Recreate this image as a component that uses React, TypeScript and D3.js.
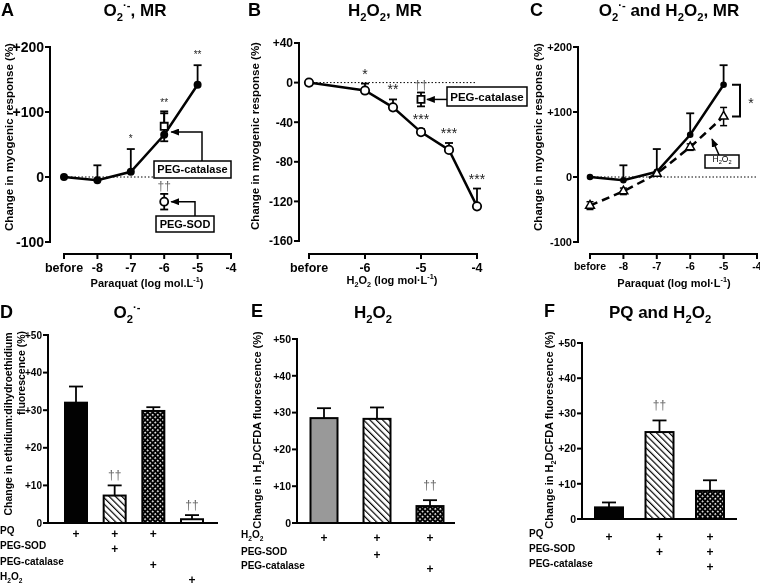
import React from "react";
import * as d3 from "d3";

const FONT = "'Liberation Sans', Arial, Helvetica, sans-serif";

// ---------- Panel A / C : paraquat, myogenic response ----------
const pqDoses = [-9, -8, -7, -6, -5]; // -9 plotted as "before"
const pqResponse = [0, -5, 8, 65, 142];
const pqErrUp = [0, 23, 35, 33, 30];
const pqStars = ["", "", "*", "**", "**"];
const pqXTicks = [-9, -8, -7, -6, -5, -4];
const pqXTickLabels = ["before", "-8", "-7", "-6", "-5", "-4"];
const pqYTicks = [-100, 0, 100, 200];
const pqYTickLabels = ["-100", "0", "+100", "+200"];

const pegCatalasePqDose = [-6];
const pegCatalasePqResponse = [78];
const pegCatalasePqErr = [23];
const pegSodPqDose = [-6];
const pegSodPqResponse = [-38];
const pegSodPqErr = [12];

// ---------- Panel B : H2O2, myogenic response ----------
const h2o2Doses = [-7, -6, -5.5, -5, -4.5, -4]; // -7 plotted as "before"
const h2o2Response = [0, -8, -25, -50, -68, -125];
const h2o2ErrUp = [0, 7, 8, 3, 7, 18];
const h2o2Stars = ["", "*", "**", "***", "***", "***"];
const h2o2XTicks = [-7, -6, -5, -4];
const h2o2XTickLabels = ["before", "-6", "-5", "-4"];
const h2o2YTicks = [-160, -120, -80, -40, 0, 40];
const h2o2YTickLabels = ["-160", "-120", "-80", "-40", "0", "+40"];
const pegCatalaseH2o2Dose = [-5];
const pegCatalaseH2o2Response = [-17];
const pegCatalaseH2o2Err = [7];

// ---------- Panel C : H2O2 (dashed) ----------
const pqH2o2Response = [-44, -22, 5, 46, 93];
const pqH2o2Err = [6, 5, 3, 5, 14];

// ---------- Bar panels ----------
const barYTicks = [0, 10, 20, 30, 40, 50];
const barYTickLabels = ["0", "+10", "+20", "+30", "+40", "+50"];

const dCategories = ["PQ", "PQ+PEG-SOD", "PQ+PEG-catalase", "H2O2"];
const dValues = [32, 7.3, 29.8, 1];
const dErr = [4.3, 2.7, 1, 1.1];
const dDaggers = ["", "††", "", "††"];
const dFills = ["black", "hatch", "cross", "white"];
const dRowLabels = ["PQ", "PEG-SOD", "PEG-catalase", "H{2}O{2}"];
const dRowMarks = [
  [1, 1, 1, 0],
  [0, 1, 0, 0],
  [0, 0, 1, 0],
  [0, 0, 0, 1],
];

const eCategories = ["H2O2", "H2O2+PEG-SOD", "H2O2+PEG-catalase"];
const eValues = [28.5, 28.3, 4.6];
const eErr = [2.7, 3.1, 1.6];
const eDaggers = ["", "", "††"];
const eFills = ["gray", "hatch", "cross"];
const eRowLabels = ["H{2}O{2}", "PEG-SOD", "PEG-catalase"];
const eRowMarks = [
  [1, 1, 1],
  [0, 1, 0],
  [0, 0, 1],
];

const fCategories = ["PQ", "PQ+PEG-SOD", "PQ+PEG-SOD+PEG-catalase"];
const fValues = [3.3, 24.7, 8];
const fErr = [1.4, 3.3, 3];
const fDaggers = ["", "††", ""];
const fFills = ["black", "hatch", "cross"];
const fRowLabels = ["PQ", "PEG-SOD", "PEG-catalase"];
const fRowMarks = [
  [1, 1, 1],
  [0, 1, 1],
  [0, 0, 1],
];

// {x} = subscript, [x] = superscript
function rich(s: string, fs: number) {
  const parts = s.split(/(\{[^}]*\}|\[[^\]]*\])/).filter((p) => p.length);
  let off = 0;
  return parts.map((p, i) => {
    let target = 0;
    let text = p;
    let size = fs;
    if (p.startsWith("{")) {
      target = 0.3 * fs;
      text = p.slice(1, -1);
      size = 0.66 * fs;
    } else if (p.startsWith("[")) {
      target = -0.42 * fs;
      text = p.slice(1, -1);
      size = 0.66 * fs;
    }
    const dy = target - off;
    off = target;
    return (
      <tspan key={i} dy={dy} fontSize={size}>
        {text}
      </tspan>
    );
  });
}

const fillFor = (f: string) =>
  f === "black" ? "#000" : f === "gray" ? "#999" : f === "white" ? "#fff" : f === "hatch" ? "url(#hatch)" : "url(#cross)";

function YAxis({ scale, x, ticks, labels, fs }: any) {
  const [d0, d1] = scale.domain();
  return (
    <g>
      <line x1={x} x2={x} y1={scale(d0) + 1} y2={scale(d1) - 1} stroke="#000" strokeWidth={2} />
      {ticks.map((t: number, i: number) => (
        <g key={i}>
          <line x1={x - 5} x2={x} y1={scale(t)} y2={scale(t)} stroke="#000" strokeWidth={2} />
          <text x={x - 6} y={scale(t)} dy="0.36em" textAnchor="end" fontSize={fs} fontWeight="bold">
            {labels[i]}
          </text>
        </g>
      ))}
    </g>
  );
}

function XAxisLine({ scale, y, ticks, labels, fs }: any) {
  const [d0, d1] = scale.domain();
  return (
    <g>
      <line x1={scale(d0) - 1} x2={scale(d1) + 1} y1={y} y2={y} stroke="#000" strokeWidth={2} />
      {ticks.map((t: number, i: number) => (
        <g key={i}>
          <line x1={scale(t)} x2={scale(t)} y1={y} y2={y + 5} stroke="#000" strokeWidth={2} />
          <text x={scale(t)} y={y + 8} dy="0.8em" textAnchor="middle" fontSize={fs} fontWeight="bold">
            {labels[i]}
          </text>
        </g>
      ))}
    </g>
  );
}

function ErrUp({ x, y0, y1, hw = 4 }: any) {
  return (
    <g stroke="#000" strokeWidth={1.8}>
      <line x1={x} x2={x} y1={y0} y2={y1} />
      <line x1={x - hw} x2={x + hw} y1={y1} y2={y1} />
    </g>
  );
}

function BarPanel({ cats, values, errs, fills, daggers, rowLabels, rowMarks, xRange, yRange, axisX, axisEnd, barW, rowYs, rowLabelX, daggerOff, tickFs }: any) {
  const x = d3.scalePoint<string>().domain(cats).range(xRange);
  const y = d3.scaleLinear().domain([0, 50]).range(yRange);
  return (
    <g>
      <YAxis scale={y} x={axisX} ticks={barYTicks} labels={barYTickLabels} fs={tickFs} />
      <line x1={axisX - 1} x2={axisEnd} y1={y(0)} y2={y(0)} stroke="#000" strokeWidth={2} />
      {cats.map((c: string, i: number) => {
        const cx = x(c)!;
        return (
          <g key={c}>
            <ErrUp x={cx} y0={y(values[i])} y1={y(values[i] + errs[i])} hw={7} />
            <rect x={cx - barW / 2} y={y(values[i])} width={barW} height={y(0) - y(values[i])} fill={fillFor(fills[i])} stroke="#000" strokeWidth={2} />
            {daggers[i] && (
              <text x={cx} y={y(values[i] + errs[i]) - daggerOff} textAnchor="middle" fontSize={12} fill="#666">
                {daggers[i]}
              </text>
            )}
          </g>
        );
      })}
      {rowLabels.map((lab: string, r: number) => (
        <g key={r}>
          <text x={rowLabelX} y={rowYs[r]} dy="0.35em" fontSize={10} fontWeight="bold">
            {rich(lab, 10)}
          </text>
          {rowMarks[r].map((m: number, i: number) =>
            m ? (
              <text key={i} x={x(cats[i])} y={rowYs[r]} dy="0.35em" textAnchor="middle" fontSize={12} fontWeight="bold">
                +
              </text>
            ) : null
          )}
        </g>
      ))}
    </g>
  );
}

export default function App() {
  const xA = d3.scaleLinear().domain([-9, -4]).range([64, 231]);
  const yA = d3.scaleLinear().domain([-100, 200]).range([242, 47]);
  const xB = d3.scaleLinear().domain([-7, -4]).range([309, 477]);
  const yB = d3.scaleLinear().domain([-160, 40]).range([241, 43]);
  const xC = d3.scaleLinear().domain([-9, -4]).range([590, 757]);
  const yC = d3.scaleLinear().domain([-100, 200]).range([242, 47]);

  const lineA = d3.line<number>().x((_, i) => xA(pqDoses[i])).y((d) => yA(d));
  const lineB = d3.line<number>().x((_, i) => xB(h2o2Doses[i])).y((d) => yB(d));
  const lineC = d3.line<number>().x((_, i) => xC(pqDoses[i])).y((d) => yC(d));

  const tri = d3.symbol().type(d3.symbolTriangle).size(34)()!;
  const sq = d3.symbol().type(d3.symbolSquare).size(50)()!;

  const yTitleA = "Change in myogenic response (%)";

  return (
    <svg
      width={760}
      height={587}
      style={{ position: "absolute", left: 0, top: 0, background: "#fff" }}
      fontFamily={FONT}
    >
      <defs>
        <pattern id="hatch" patternUnits="userSpaceOnUse" width={4.5} height={4.5} patternTransform="rotate(-45)">
          <rect width={4.5} height={4.5} fill="#fff" />
          <line x1={0} y1={0} x2={0} y2={4.5} stroke="#000" strokeWidth={2.4} />
        </pattern>
        <pattern id="cross" patternUnits="userSpaceOnUse" width={3.6} height={3.6} patternTransform="rotate(45)">
          <rect width={3.6} height={3.6} fill="#000" />
          <rect x={0.9} y={0.9} width={1.6} height={1.6} fill="#fff" />
        </pattern>
        <marker id="arrow" viewBox="0 0 10 8" refX={9} refY={4} markerWidth={9} markerHeight={7} markerUnits="userSpaceOnUse" orient="auto">
          <path d="M0,0 L10,4 L0,8 z" fill="#000" />
        </marker>
      </defs>
      <rect width={760} height={587} fill="#fff" />
      <g opacity={0.996}>

      {/* ---------------- Panel A ---------------- */}
      <text x={1} y={16} fontSize={18} fontWeight="bold">A</text>
      <text x={135} y={16} textAnchor="middle" fontSize={17} fontWeight="bold">
        {rich("O{2}[·-], MR", 17)}
      </text>
      <text transform="translate(13,137) rotate(-90)" textAnchor="middle" fontSize={11.5} fontWeight="bold">
        {yTitleA}
      </text>
      <YAxis scale={yA} x={50} ticks={pqYTicks} labels={pqYTickLabels} fs={14} />
      <XAxisLine scale={xA} y={254} ticks={pqXTicks} labels={pqXTickLabels} fs={12.5} />
      <text x={147} y={287} textAnchor="middle" fontSize={11} fontWeight="bold">
        {rich("Paraquat (log mol.L[-1])", 11)}
      </text>
      <line x1={xA(-9)} x2={xA(-4)} y1={yA(0)} y2={yA(0)} stroke="#000" strokeWidth={1} strokeDasharray="1.5,2" />
      {pqResponse.map((v, i) =>
        pqErrUp[i] ? <ErrUp key={i} x={xA(pqDoses[i])} y0={yA(v)} y1={yA(v + pqErrUp[i])} /> : null
      )}
      <path d={lineA(pqResponse)!} fill="none" stroke="#000" strokeWidth={2.5} />
      {pegCatalasePqResponse.map((v, i) => (
        <g key={i}>
          <line x1={xA(pegCatalasePqDose[i])} x2={xA(pegCatalasePqDose[i])} y1={yA(v - pegCatalasePqErr[i])} y2={yA(v + pegCatalasePqErr[i])} stroke="#000" strokeWidth={1.8} />
          <line x1={xA(pegCatalasePqDose[i]) - 4} x2={xA(pegCatalasePqDose[i]) + 4} y1={yA(v + pegCatalasePqErr[i])} y2={yA(v + pegCatalasePqErr[i])} stroke="#000" strokeWidth={1.8} />
          <line x1={xA(pegCatalasePqDose[i]) - 4} x2={xA(pegCatalasePqDose[i]) + 4} y1={yA(v - pegCatalasePqErr[i])} y2={yA(v - pegCatalasePqErr[i])} stroke="#000" strokeWidth={1.8} />
          <path d={sq} transform={`translate(${xA(pegCatalasePqDose[i])},${yA(v)})`} fill="#fff" stroke="#000" strokeWidth={1.8} />
        </g>
      ))}
      {pqResponse.map((v, i) => (
        <circle key={i} cx={xA(pqDoses[i])} cy={yA(v)} r={4} fill="#000" />
      ))}
      {pqStars.map((s, i) =>
        s ? (
          <text key={i} x={xA(pqDoses[i])} y={yA(pqResponse[i] + pqErrUp[i]) - 7} textAnchor="middle" fontSize={10} fill="#222">
            {s}
          </text>
        ) : null
      )}
      {pegSodPqResponse.map((v, i) => (
        <g key={i}>
          <line x1={xA(pegSodPqDose[i])} x2={xA(pegSodPqDose[i])} y1={yA(v - pegSodPqErr[i])} y2={yA(v + pegSodPqErr[i])} stroke="#000" strokeWidth={1.8} />
          <line x1={xA(pegSodPqDose[i]) - 4} x2={xA(pegSodPqDose[i]) + 4} y1={yA(v + pegSodPqErr[i])} y2={yA(v + pegSodPqErr[i])} stroke="#000" strokeWidth={1.8} />
          <line x1={xA(pegSodPqDose[i]) - 4} x2={xA(pegSodPqDose[i]) + 4} y1={yA(v - pegSodPqErr[i])} y2={yA(v - pegSodPqErr[i])} stroke="#000" strokeWidth={1.8} />
          <circle cx={xA(pegSodPqDose[i])} cy={yA(v)} r={4} fill="#fff" stroke="#000" strokeWidth={1.8} />
          <text x={xA(pegSodPqDose[i])} y={yA(v + pegSodPqErr[i]) - 4} textAnchor="middle" fontSize={12} fill="#666">††</text>
        </g>
      ))}
      {/* callouts A */}
      <rect x={154} y={161} width={77} height={17} fill="#fff" stroke="#000" strokeWidth={1.5} />
      <text x={192.5} y={169.5} dy="0.36em" textAnchor="middle" fontSize={11} fontWeight="bold">PEG-catalase</text>
      <path d={`M202,161 V132 H${xA(-6) + 7}`} fill="none" stroke="#000" strokeWidth={1.5} markerEnd="url(#arrow)" />
      <rect x={156} y={216} width={58} height={16} fill="#fff" stroke="#000" strokeWidth={1.5} />
      <text x={185} y={224} dy="0.36em" textAnchor="middle" fontSize={11} fontWeight="bold">PEG-SOD</text>
      <path d={`M195,216 V${yA(-38)} H${xA(-6) + 7}`} fill="none" stroke="#000" strokeWidth={1.5} markerEnd="url(#arrow)" />

      {/* ---------------- Panel B ---------------- */}
      <text x={248} y={16} fontSize={18} fontWeight="bold">B</text>
      <text x={385} y={16} textAnchor="middle" fontSize={17} fontWeight="bold">
        {rich("H{2}O{2}, MR", 17)}
      </text>
      <text transform="translate(259,136) rotate(-90)" textAnchor="middle" fontSize={11.5} fontWeight="bold">
        {yTitleA}
      </text>
      <YAxis scale={yB} x={299} ticks={h2o2YTicks} labels={h2o2YTickLabels} fs={12} />
      <XAxisLine scale={xB} y={254} ticks={h2o2XTicks} labels={h2o2XTickLabels} fs={12.5} />
      <text x={392} y={284} textAnchor="middle" fontSize={11} fontWeight="bold">
        {rich("H{2}O{2} (log mol·L[-1])", 11)}
      </text>
      <line x1={xB(-7)} x2={xB(-4)} y1={yB(0)} y2={yB(0)} stroke="#000" strokeWidth={1} strokeDasharray="1.5,2" />
      {h2o2Response.map((v, i) =>
        h2o2ErrUp[i] ? <ErrUp key={i} x={xB(h2o2Doses[i])} y0={yB(v)} y1={yB(v + h2o2ErrUp[i])} /> : null
      )}
      <path d={lineB(h2o2Response)!} fill="none" stroke="#000" strokeWidth={2.5} />
      {h2o2Response.map((v, i) => (
        <circle key={i} cx={xB(h2o2Doses[i])} cy={yB(v)} r={4.2} fill="#fff" stroke="#000" strokeWidth={1.8} />
      ))}
      {h2o2Stars.map((s, i) =>
        s ? (
          <text key={i} x={xB(h2o2Doses[i])} y={yB(h2o2Response[i] + h2o2ErrUp[i]) - 5} textAnchor="middle" fontSize={14} fill="#222">
            {s}
          </text>
        ) : null
      )}
      {pegCatalaseH2o2Response.map((v, i) => (
        <g key={i}>
          <line x1={xB(pegCatalaseH2o2Dose[i])} x2={xB(pegCatalaseH2o2Dose[i])} y1={yB(v - pegCatalaseH2o2Err[i])} y2={yB(v + pegCatalaseH2o2Err[i])} stroke="#000" strokeWidth={1.8} />
          <line x1={xB(pegCatalaseH2o2Dose[i]) - 4} x2={xB(pegCatalaseH2o2Dose[i]) + 4} y1={yB(v + pegCatalaseH2o2Err[i])} y2={yB(v + pegCatalaseH2o2Err[i])} stroke="#000" strokeWidth={1.8} />
          <line x1={xB(pegCatalaseH2o2Dose[i]) - 4} x2={xB(pegCatalaseH2o2Dose[i]) + 4} y1={yB(v - pegCatalaseH2o2Err[i])} y2={yB(v - pegCatalaseH2o2Err[i])} stroke="#000" strokeWidth={1.8} />
          <path d={sq} transform={`translate(${xB(pegCatalaseH2o2Dose[i])},${yB(v)})`} fill="#fff" stroke="#000" strokeWidth={1.8} />
          <text x={xB(pegCatalaseH2o2Dose[i])} y={yB(v + pegCatalaseH2o2Err[i]) - 4} textAnchor="middle" fontSize={12} fill="#666">††</text>
          <path d={`M447,${yB(v)} H${xB(pegCatalaseH2o2Dose[i]) + 6}`} fill="none" stroke="#000" strokeWidth={1.5} markerEnd="url(#arrow)" />
        </g>
      ))}
      <rect x={447} y={87} width={80} height={19} fill="#fff" stroke="#000" strokeWidth={1.5} />
      <text x={487} y={96.5} dy="0.36em" textAnchor="middle" fontSize={11.5} fontWeight="bold">PEG-catalase</text>

      {/* ---------------- Panel C ---------------- */}
      <text x={530} y={16} fontSize={18} fontWeight="bold">C</text>
      <text x={669} y={16} textAnchor="middle" fontSize={17} fontWeight="bold">
        {rich("O{2}[·-] and H{2}O{2}, MR", 17)}
      </text>
      <text transform="translate(542,137) rotate(-90)" textAnchor="middle" fontSize={11.5} fontWeight="bold">
        {yTitleA}
      </text>
      <YAxis scale={yC} x={578} ticks={pqYTicks} labels={pqYTickLabels} fs={11} />
      <XAxisLine scale={xC} y={254} ticks={pqXTicks} labels={pqXTickLabels} fs={10.5} />
      <text x={674} y={287} textAnchor="middle" fontSize={11} fontWeight="bold">
        {rich("Paraquat (log mol·L[-1])", 11)}
      </text>
      <line x1={xC(-9)} x2={xC(-4)} y1={yC(0)} y2={yC(0)} stroke="#000" strokeWidth={1} strokeDasharray="1.5,2" />
      {pqResponse.map((v, i) =>
        pqErrUp[i] ? <ErrUp key={i} x={xC(pqDoses[i])} y0={yC(v)} y1={yC(v + pqErrUp[i])} /> : null
      )}
      {pqH2o2Response.map((v, i) => (
        <g key={i}>
          <line x1={xC(pqDoses[i])} x2={xC(pqDoses[i])} y1={yC(v - pqH2o2Err[i])} y2={yC(v + pqH2o2Err[i])} stroke="#000" strokeWidth={1.5} />
          <line x1={xC(pqDoses[i]) - 3.5} x2={xC(pqDoses[i]) + 3.5} y1={yC(v + pqH2o2Err[i])} y2={yC(v + pqH2o2Err[i])} stroke="#000" strokeWidth={1.5} />
          <line x1={xC(pqDoses[i]) - 3.5} x2={xC(pqDoses[i]) + 3.5} y1={yC(v - pqH2o2Err[i])} y2={yC(v - pqH2o2Err[i])} stroke="#000" strokeWidth={1.5} />
        </g>
      ))}
      <path d={lineC(pqResponse)!} fill="none" stroke="#000" strokeWidth={2.5} />
      <path d={lineC(pqH2o2Response)!} fill="none" stroke="#000" strokeWidth={2.5} strokeDasharray="8,5" />
      {pqResponse.map((v, i) => (
        <circle key={i} cx={xC(pqDoses[i])} cy={yC(v)} r={3.3} fill="#000" />
      ))}
      {pqH2o2Response.map((v, i) => (
        <path key={i} d={tri} transform={`translate(${xC(pqDoses[i])},${yC(v)})`} fill="#fff" stroke="#000" strokeWidth={1.5} />
      ))}
      <path d={`M732,${yC(pqResponse[4])} H740 V${yC(pqH2o2Response[4])} H732`} fill="none" stroke="#000" strokeWidth={2} />
      <text x={751} y={108} textAnchor="middle" fontSize={14} fill="#222">*</text>
      <rect x={705} y={155} width={34} height={13} fill="#fff" stroke="#000" strokeWidth={1.5} />
      <text x={722} y={161.5} dy="0.36em" textAnchor="middle" fontSize={8.5}>
        {rich("H{2}O{2}", 8.5)}
      </text>
      <path d="M719,155 L712,139" fill="none" stroke="#000" strokeWidth={1.5} markerEnd="url(#arrow)" />

      {/* ---------------- Panel D ---------------- */}
      <text x={0} y={318} fontSize={18} fontWeight="bold">D</text>
      <text x={127} y={318} textAnchor="middle" fontSize={17} fontWeight="bold">
        {rich("O{2}[·-]", 17)}
      </text>
      <text transform="translate(12,424) rotate(-90)" textAnchor="middle" fontSize={10.5} fontWeight="bold">
        Change in ethidium:dihydroethidium
      </text>
      <text transform="translate(25,373) rotate(-90)" textAnchor="middle" fontSize={10.5} fontWeight="bold">
        fluorescence (%)
      </text>
      <BarPanel
        cats={dCategories}
        values={dValues}
        errs={dErr}
        fills={dFills}
        daggers={dDaggers}
        rowLabels={dRowLabels}
        rowMarks={dRowMarks}
        xRange={[76, 192]}
        yRange={[523, 335]}
        axisX={48}
        axisEnd={218}
        barW={22}
        rowYs={[534, 549, 565, 580]}
        rowLabelX={0}
        daggerOff={6}
        tickFs={10}
      />

      {/* ---------------- Panel E ---------------- */}
      <text x={251} y={317} fontSize={18} fontWeight="bold">E</text>
      <text x={373} y={318} textAnchor="middle" fontSize={17} fontWeight="bold">
        {rich("H{2}O{2}", 17)}
      </text>
      <text transform="translate(261,430) rotate(-90)" textAnchor="middle" fontSize={11} fontWeight="bold">
        {rich("Change in H{2}DCFDA fluorescence (%)", 11)}
      </text>
      <BarPanel
        cats={eCategories}
        values={eValues}
        errs={eErr}
        fills={eFills}
        daggers={eDaggers}
        rowLabels={eRowLabels}
        rowMarks={eRowMarks}
        xRange={[324, 430]}
        yRange={[523, 339]}
        axisX={297}
        axisEnd={455}
        barW={27}
        rowYs={[538, 555, 569]}
        rowLabelX={241}
        daggerOff={11}
        tickFs={10.5}
      />

      {/* ---------------- Panel F ---------------- */}
      <text x={544} y={317} fontSize={18} fontWeight="bold">F</text>
      <text x={660} y={318} textAnchor="middle" fontSize={17} fontWeight="bold">
        {rich("PQ and H{2}O{2}", 17)}
      </text>
      <text transform="translate(553,430) rotate(-90)" textAnchor="middle" fontSize={11} fontWeight="bold">
        {rich("Change in H{2}DCFDA fluorescence (%)", 11)}
      </text>
      <BarPanel
        cats={fCategories}
        values={fValues}
        errs={fErr}
        fills={fFills}
        daggers={fDaggers}
        rowLabels={fRowLabels}
        rowMarks={fRowMarks}
        xRange={[609, 710]}
        yRange={[519, 343]}
        axisX={582}
        axisEnd={737}
        barW={28}
        rowYs={[537, 552, 567]}
        rowLabelX={529}
        daggerOff={11}
        tickFs={10.5}
      />
      </g>
    </svg>
  );
}
